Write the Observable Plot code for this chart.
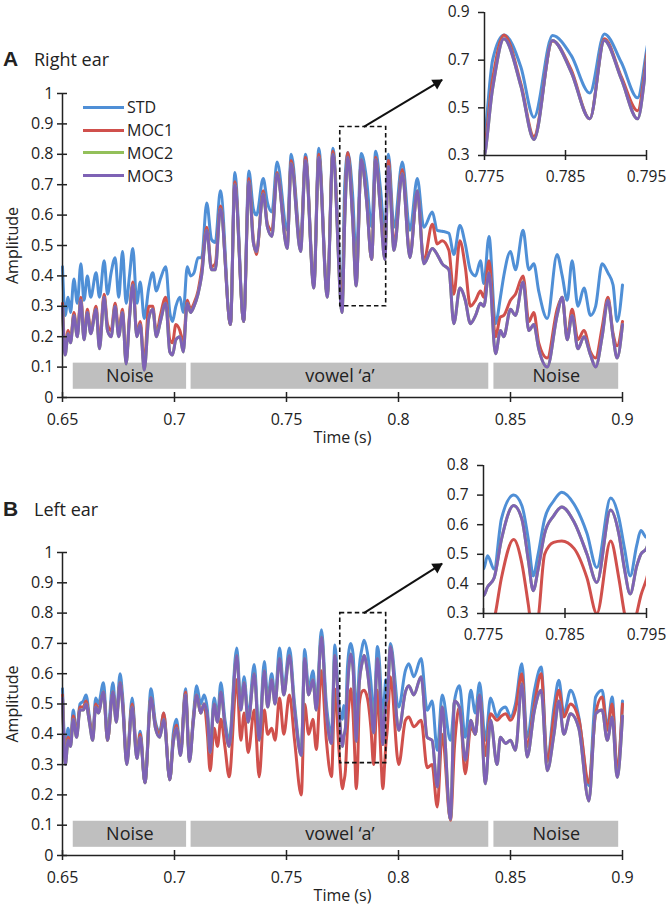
<!DOCTYPE html>
<html><head><meta charset="utf-8">
<script src="https://cdn.jsdelivr.net/npm/d3@7"></script>
<script src="https://cdn.jsdelivr.net/npm/@observablehq/plot@0.6"></script>
<style>
body{margin:0;background:#fff;font-family:"Open Sans",sans-serif;color:#222}
#root{position:relative;width:666px;height:915px;overflow:hidden;background:#fff}
.abs{position:absolute}
.letter{font-family:"Liberation Sans",Arial,sans-serif;font-weight:bold;font-size:21px;line-height:24px}
.ptitle{font-size:18px;line-height:24px}
.legend{font-size:16px}
.legend .row{display:flex;align-items:center;height:22.8px}
.legend .sw{width:41px;height:3px;margin-right:3px}
</style></head><body><div id="root"></div>
<script>
// ---------- data ----------
const seriesNames = ["STD", "MOC1", "MOC2", "MOC3"];
const seriesColors = ["#4f8fd6", "#d0504c", "#93c05a", "#7e62b5"];

const mainXTicks = [0.65, 0.7, 0.75, 0.8, 0.85, 0.9];
const mainYTicks = [0, 0.1, 0.2, 0.3, 0.4, 0.5, 0.6, 0.7, 0.8, 0.9, 1];
const insetXTicks = [0.775, 0.785, 0.795];
const insetAYTicks = [0.3, 0.5, 0.7, 0.9];
const insetBYTicks = [0.3, 0.4, 0.5, 0.6, 0.7, 0.8];

const segLabels = ["Noise", "vowel \u2018a\u2019", "Noise"];
const segStart = [0.6548, 0.7074, 0.8426];
const segEnd = [0.7054, 0.8403, 0.8983];
const segBottom = 0.027;
const segTop = 0.113;

// Right ear (panel A)
const rightTime = [0.6500,0.6512,0.6525,0.6536,0.6551,0.6566,0.6582,0.6596,0.6611,0.6626,
0.6650,0.6665,0.6686,0.6701,0.6717,0.6735,0.6751,0.6768,0.6784,0.6799,
0.6814,0.6832,0.6847,0.6865,0.6885,0.6903,0.6919,0.6937,0.6961,0.6979,
0.6991,0.7006,0.7024,0.7039,0.7057,0.7072,0.7087,0.7105,0.7121,0.7144,
0.7165,0.7182,0.7205,0.7250,0.7269,0.7309,0.7332,0.7352,0.7366,0.7396,
0.7415,0.7435,0.7458,0.7503,0.7521,0.7563,0.7585,0.7622,0.7644,0.7682,
0.7707,0.7748,0.7760,0.7774,0.7795,0.7811,0.7834,0.7857,0.7880,0.7898,
0.7919,0.7939,0.7955,0.7980,0.8017,0.8051,0.8084,0.8113,0.8151,0.8173,
0.8195,0.8225,0.8247,0.8274,0.8298,0.8321,0.8344,0.8366,0.8381,0.8404,
0.8433,0.8455,0.8470,0.8500,0.8522,0.8556,0.8582,0.8604,0.8626,0.8664,
0.8708,0.8731,0.8753,0.8775,0.8801,0.8828,0.8857,0.8880,0.8909,0.8935,
0.8958,0.8976,0.9000];
const rightSTD = [0.43,0.27,0.33,0.28,0.39,0.31,0.44,0.32,0.40,0.33,
0.41,0.33,0.45,0.34,0.41,0.46,0.33,0.48,0.31,0.40,
0.49,0.31,0.38,0.26,0.36,0.41,0.35,0.39,0.43,0.28,
0.25,0.30,0.33,0.28,0.43,0.40,0.41,0.46,0.46,0.64,
0.52,0.51,0.68,0.24,0.74,0.25,0.745,0.62,0.60,0.72,
0.64,0.61,0.775,0.55,0.80,0.52,0.80,0.37,0.82,0.34,
0.82,0.36,0.70,0.806,0.67,0.46,0.803,0.72,0.562,0.81,
0.69,0.542,0.80,0.56,0.775,0.55,0.72,0.56,0.61,0.55,
0.547,0.54,0.47,0.566,0.505,0.418,0.40,0.45,0.375,0.53,
0.243,0.33,0.40,0.48,0.42,0.55,0.42,0.44,0.35,0.26,
0.47,0.40,0.32,0.45,0.30,0.36,0.27,0.30,0.44,0.41,
0.37,0.25,0.37];
const rightMOC1 = [0.31,0.16,0.22,0.19,0.28,0.21,0.33,0.20,0.29,0.22,
0.30,0.18,0.34,0.24,0.22,0.31,0.22,0.29,0.12,0.27,
0.38,0.21,0.25,0.11,0.30,0.30,0.21,0.27,0.33,0.19,
0.18,0.24,0.22,0.18,0.32,0.29,0.31,0.35,0.42,0.56,
0.43,0.44,0.63,0.24,0.71,0.25,0.72,0.52,0.47,0.68,
0.57,0.55,0.74,0.50,0.78,0.50,0.79,0.37,0.80,0.34,
0.81,0.31,0.62,0.806,0.60,0.38,0.78,0.66,0.454,0.79,
0.63,0.488,0.78,0.50,0.75,0.47,0.675,0.45,0.57,0.505,
0.516,0.484,0.34,0.516,0.43,0.30,0.32,0.35,0.33,0.45,
0.20,0.265,0.27,0.32,0.34,0.40,0.25,0.28,0.18,0.13,
0.29,0.33,0.20,0.29,0.19,0.22,0.15,0.13,0.23,0.33,
0.21,0.17,0.25];
const rightMOC3 = [0.30,0.14,0.21,0.18,0.27,0.20,0.32,0.19,0.28,0.21,
0.29,0.16,0.33,0.22,0.20,0.30,0.20,0.28,0.11,0.26,
0.37,0.20,0.24,0.09,0.26,0.29,0.20,0.25,0.31,0.15,
0.14,0.19,0.20,0.15,0.31,0.28,0.30,0.34,0.40,0.55,
0.42,0.42,0.62,0.24,0.70,0.25,0.71,0.51,0.48,0.67,
0.56,0.53,0.735,0.49,0.77,0.48,0.78,0.36,0.79,0.33,
0.80,0.28,0.58,0.79,0.59,0.367,0.783,0.65,0.454,0.783,
0.62,0.454,0.76,0.484,0.737,0.46,0.68,0.44,0.49,0.47,
0.44,0.42,0.243,0.36,0.32,0.243,0.27,0.31,0.30,0.41,
0.144,0.22,0.20,0.29,0.27,0.38,0.22,0.24,0.16,0.10,
0.27,0.33,0.19,0.27,0.16,0.20,0.14,0.10,0.20,0.32,
0.20,0.13,0.24];
// MOC2 is drawn underneath MOC3 and coincides with it in the figure
const rightMOC2 = rightMOC3.slice();

// Left ear (panel B)
const leftTime = [0.6500,0.6513,0.6525,0.6536,0.6548,0.6563,0.6578,0.6593,0.6605,0.6620,
0.6635,0.6648,0.6660,0.6683,0.6701,0.6725,0.6740,0.6757,0.6769,0.6787,
0.6811,0.6832,0.6847,0.6868,0.6895,0.6915,0.6934,0.6952,0.6979,0.6994,
0.7009,0.7027,0.7049,0.7067,0.7084,0.7099,0.7117,0.7132,0.7147,0.7159,
0.7177,0.7192,0.7207,0.7225,0.7244,0.7278,0.7296,0.7311,0.7329,0.7356,
0.7378,0.7401,0.7416,0.7434,0.7449,0.7469,0.7488,0.7513,0.7536,0.7566,
0.7581,0.7599,0.7618,0.7633,0.7656,0.7678,0.7701,0.7716,0.7734,0.7750,
0.7755,0.7763,0.7772,0.7787,0.7797,0.7805,0.7811,0.7817,0.7825,0.7836,
0.7846,0.7861,0.7877,0.7889,0.7906,0.7916,0.7923,0.7930,0.7938,0.7943,
0.7950,0.7964,0.8001,0.8031,0.8046,0.8068,0.8101,0.8128,0.8150,0.8173,
0.8195,0.8232,0.8250,0.8272,0.8298,0.8323,0.8343,0.8362,0.8388,0.8411,
0.8440,0.8455,0.8478,0.8500,0.8522,0.8551,0.8574,0.8607,
0.8637,0.8664,0.8694,0.8716,0.8738,0.8768,0.8805,0.8850,0.8880,0.8909,
0.8932,0.8954,0.8976,0.9000];
const leftSTD = [0.55,0.35,0.42,0.38,0.48,0.40,0.50,0.51,0.53,0.46,
0.39,0.52,0.50,0.57,0.40,0.57,0.46,0.60,0.52,0.31,
0.52,0.33,0.41,0.24,0.55,0.44,0.41,0.47,0.25,0.40,
0.45,0.34,0.55,0.32,0.46,0.56,0.50,0.53,0.48,0.36,
0.52,0.46,0.57,0.45,0.38,0.685,0.50,0.59,0.46,0.63,
0.40,0.64,0.52,0.60,0.52,0.685,0.55,0.685,0.50,0.34,
0.68,0.55,0.61,0.50,0.745,0.50,0.40,0.695,0.50,0.45,
0.495,0.45,0.62,0.70,0.665,0.55,0.427,0.50,0.62,0.68,
0.71,0.67,0.57,0.455,0.69,0.625,0.52,0.427,0.53,0.58,
0.557,0.70,0.49,0.611,0.633,0.59,0.65,0.479,0.51,0.347,
0.53,0.38,0.51,0.56,0.39,0.545,0.47,0.57,0.38,0.52,
0.457,0.479,0.49,0.457,0.50,0.633,0.39,0.545,
0.622,0.314,0.49,0.578,0.468,0.545,0.457,0.23,0.523,0.545,
0.425,0.523,0.28,0.51];
const leftMOC1 = [0.53,0.32,0.39,0.37,0.46,0.40,0.49,0.49,0.51,0.45,
0.39,0.50,0.48,0.54,0.38,0.54,0.45,0.57,0.50,0.31,
0.50,0.34,0.40,0.24,0.52,0.43,0.40,0.47,0.25,0.38,
0.43,0.34,0.54,0.32,0.45,0.53,0.47,0.50,0.40,0.28,
0.42,0.36,0.45,0.36,0.26,0.58,0.38,0.47,0.34,0.48,
0.26,0.48,0.40,0.42,0.38,0.52,0.40,0.53,0.38,0.20,
0.50,0.40,0.45,0.35,0.61,0.38,0.26,0.55,0.35,0.22,
0.24,0.28,0.42,0.55,0.47,0.33,0.22,0.28,0.50,0.54,
0.545,0.52,0.42,0.30,0.545,0.42,0.30,0.22,0.30,0.36,
0.416,0.59,0.30,0.446,0.457,0.425,0.446,0.29,0.30,0.16,
0.40,0.116,0.36,0.49,0.27,0.425,0.40,0.53,0.33,0.468,
0.446,0.457,0.468,0.446,0.48,0.60,0.36,0.50,
0.60,0.31,0.46,0.545,0.457,0.50,0.45,0.24,0.468,0.523,
0.413,0.50,0.29,0.50];
const leftMOC3 = [0.52,0.30,0.38,0.36,0.45,0.39,0.48,0.48,0.50,0.44,
0.38,0.49,0.47,0.54,0.38,0.54,0.44,0.57,0.49,0.30,
0.49,0.32,0.39,0.24,0.52,0.42,0.39,0.45,0.25,0.37,
0.42,0.33,0.53,0.31,0.44,0.53,0.47,0.50,0.46,0.34,
0.50,0.44,0.54,0.43,0.36,0.66,0.48,0.57,0.44,0.60,
0.38,0.61,0.49,0.58,0.50,0.65,0.53,0.66,0.48,0.33,
0.65,0.53,0.58,0.48,0.72,0.47,0.37,0.66,0.48,0.36,
0.39,0.42,0.55,0.665,0.62,0.48,0.377,0.45,0.57,0.63,
0.66,0.61,0.50,0.405,0.65,0.57,0.45,0.366,0.46,0.50,
0.52,0.69,0.413,0.54,0.56,0.53,0.59,0.39,0.38,0.226,
0.49,0.12,0.51,0.49,0.314,0.446,0.40,0.53,0.237,0.446,
0.30,0.39,0.37,0.38,0.347,0.567,0.325,0.48,
0.545,0.28,0.40,0.51,0.40,0.468,0.42,0.18,0.468,0.48,
0.38,0.457,0.258,0.46];
const leftMOC2 = leftMOC3.slice();

// zoom boxes and arrows (data coordinates)
const boxA = [{x1: 0.774, x2: 0.7945, y1: 0.3, y2: 0.89}];
const boxB = [{x1: 0.774, x2: 0.7945, y1: 0.305, y2: 0.80}];
const arrowA = {x1: 0.7845, y1: 0.89, x2: 0.8195, y2: 1.045};
const arrowB = {x1: 0.7845, y1: 0.80, x2: 0.8195, y2: 0.963};

// ---------- helpers ----------
const FONT = "Open Sans";
const rows = (time, vals) => time.map((t, i) => ({t, v: vals[i]}));
const fmt = d => String(d);
const LW = 3;

function seriesMarks(time, sets, extra = {}) {
  return sets.map((vals, k) => Plot.line(rows(time, vals), {
    x: "t", y: "v", stroke: seriesColors[k], strokeWidth: LW,
    curve: "monotone-x", strokeLinejoin: "round", strokeLinecap: "round", ...extra
  }));
}

function mainPanel({time, sets, height, marginTop, marginBottom, box, arrow}) {
  const W = 666, ML = 62, MR = 44;
  const xs = d3.scaleLinear().domain([0.65, 0.9]).range([ML, W - MR]);
  const ys = d3.scaleLinear().domain([0, 1]).range([height - marginBottom, marginTop]);
  const px1 = xs(arrow.x1), py1 = ys(arrow.y1), px2 = xs(arrow.x2), py2 = ys(arrow.y2);
  const dx = px2 - px1, dy = py2 - py1, len = Math.hypot(dx, dy);
  const hx = px2 - dx / len * 6, hy = py2 - dy / len * 6;
  const head = [{x: xs.invert(hx), y: ys.invert(hy)}];
  const rot = Math.atan2(dx, -dy) * 180 / Math.PI;
  const segs = segLabels.map((label, i) => ({label, x1: segStart[i], x2: segEnd[i]}));
  return Plot.plot({
    width: W, height, marginLeft: ML, marginRight: MR, marginTop, marginBottom,
    x: {domain: [0.65, 0.9]},
    y: {domain: [0, 1]},
    style: {fontFamily: FONT, fontSize: "16px", color: "#222", background: "transparent", overflow: "visible"},
    marks: [
      Plot.rect(segs, {x1: "x1", x2: "x2", y1: segBottom, y2: segTop, fill: "#bfbfbf"}),
      Plot.text(segs, {x: d => (d.x1 + d.x2) / 2, y: (segBottom + segTop) / 2, text: "label", fontSize: 18, fill: "#222", fontFamily: FONT}),
      ...seriesMarks(time, sets),
      Plot.rect(box, {x1: "x1", x2: "x2", y1: "y1", y2: "y2", fill: "none", stroke: "#111", strokeWidth: 1.6, strokeDasharray: "4.5,3"}),
      Plot.link([arrow], {x1: "x1", y1: "y1", x2: "x2", y2: "y2", stroke: "#111", strokeWidth: 2}),
      Plot.dot(head, {x: "x", y: "y", symbol: "triangle2", r: 5.5, rotate: rot, fill: "#111", stroke: "none"}),
      Plot.ruleY([0], {x1: 0.65, x2: 0.9, stroke: "#222", strokeWidth: 1.5}),
      Plot.ruleX([0.65], {y1: 0, y2: 1, stroke: "#222", strokeWidth: 1.5}),
      Plot.ruleX(mainXTicks, {x: d => d, y1: 0, y2: 0, insetTop: -5, insetBottom: -5, stroke: "#222", strokeWidth: 1.5}),
      Plot.ruleY(mainYTicks, {y: d => d, x1: 0.65, x2: 0.65, insetLeft: -5, insetRight: -5, stroke: "#222", strokeWidth: 1.5}),
      Plot.axisX({ticks: mainXTicks, tickSize: 0, tickPadding: 16, tickFormat: fmt, label: "Time (s)", labelAnchor: "center", labelOffset: 45, labelArrow: "none"}),
      Plot.axisY({ticks: mainYTicks, tickSize: 0, tickPadding: 9, tickFormat: fmt, label: "Amplitude", labelAnchor: "center", labelOffset: 56, labelArrow: "none"})
    ]
  });
}

function insetPanel({time, sets, width, height, marginLeft, marginRight, marginTop, marginBottom, yDomain, yTicks}) {
  return Plot.plot({
    width, height, marginLeft, marginRight, marginTop, marginBottom,
    x: {domain: [0.775, 0.795]},
    y: {domain: yDomain},
    style: {fontFamily: FONT, fontSize: "15.5px", color: "#222", background: "transparent", overflow: "visible"},
    marks: [
      ...seriesMarks(time, sets, {clip: true}),
      Plot.ruleY([yDomain[0]], {x1: 0.775, x2: 0.795, stroke: "#222", strokeWidth: 1.5}),
      Plot.ruleX([0.775], {y1: yDomain[0], y2: yDomain[1], stroke: "#222", strokeWidth: 1.5}),
      Plot.ruleX(insetXTicks, {x: d => d, y1: yDomain[0], y2: yDomain[0], insetTop: -5, insetBottom: -5, stroke: "#222", strokeWidth: 1.5}),
      Plot.ruleY(yTicks, {y: d => d, x1: 0.775, x2: 0.775, insetLeft: -6, insetRight: 0, stroke: "#222", strokeWidth: 1.5}),
      Plot.axisX({ticks: insetXTicks, tickSize: 0, tickPadding: 15, tickFormat: fmt, label: null}),
      Plot.axisY({ticks: yTicks, tickSize: 0, tickPadding: 15, tickFormat: fmt, label: null})
    ]
  });
}

// ---------- layout ----------
const root = document.getElementById("root");
function place(node, left, top) {
  const d = document.createElement("div");
  d.className = "abs"; d.style.left = left + "px"; d.style.top = top + "px";
  d.appendChild(node); root.appendChild(d); return d;
}
function htmlText(html, cls, left, top) {
  const d = document.createElement("div");
  d.className = "abs " + cls; d.style.left = left + "px"; d.style.top = top + "px";
  d.innerHTML = html; root.appendChild(d); return d;
}

const setsA = [rightSTD, rightMOC1, rightMOC2, rightMOC3];
const setsB = [leftSTD, leftMOC1, leftMOC2, leftMOC3];

place(mainPanel({time: rightTime, sets: setsA, height: 460, marginTop: 93, marginBottom: 63, box: boxA, arrow: arrowA}), 0, 0);
place(mainPanel({time: leftTime, sets: setsB, height: 455, marginTop: 92, marginBottom: 60, box: boxB, arrow: arrowB}), 0, 460);
place(insetPanel({time: rightTime, sets: setsA, width: 266, height: 190, marginLeft: 84, marginRight: 20, marginTop: 12, marginBottom: 35, yDomain: [0.3, 0.9], yTicks: insetAYTicks}), 400, 0);
place(insetPanel({time: leftTime, sets: setsB, width: 266, height: 190, marginLeft: 83, marginRight: 20, marginTop: 15, marginBottom: 27, yDomain: [0.3, 0.8], yTicks: insetBYTicks}), 400, 450);

htmlText("A", "letter", 3, 47);
htmlText("Right ear", "ptitle", 34, 47);
htmlText("B", "letter", 3, 497);
htmlText("Left ear", "ptitle", 34, 497);

const legend = document.createElement("div");
legend.className = "abs legend";
legend.style.left = "83px"; legend.style.top = "96px";
seriesNames.forEach((name, k) => {
  const r = document.createElement("div"); r.className = "row";
  const sw = document.createElement("span"); sw.className = "sw"; sw.style.background = seriesColors[k];
  const lb = document.createElement("span"); lb.textContent = name;
  r.appendChild(sw); r.appendChild(lb); legend.appendChild(r);
});
root.appendChild(legend);
</script></body></html>
